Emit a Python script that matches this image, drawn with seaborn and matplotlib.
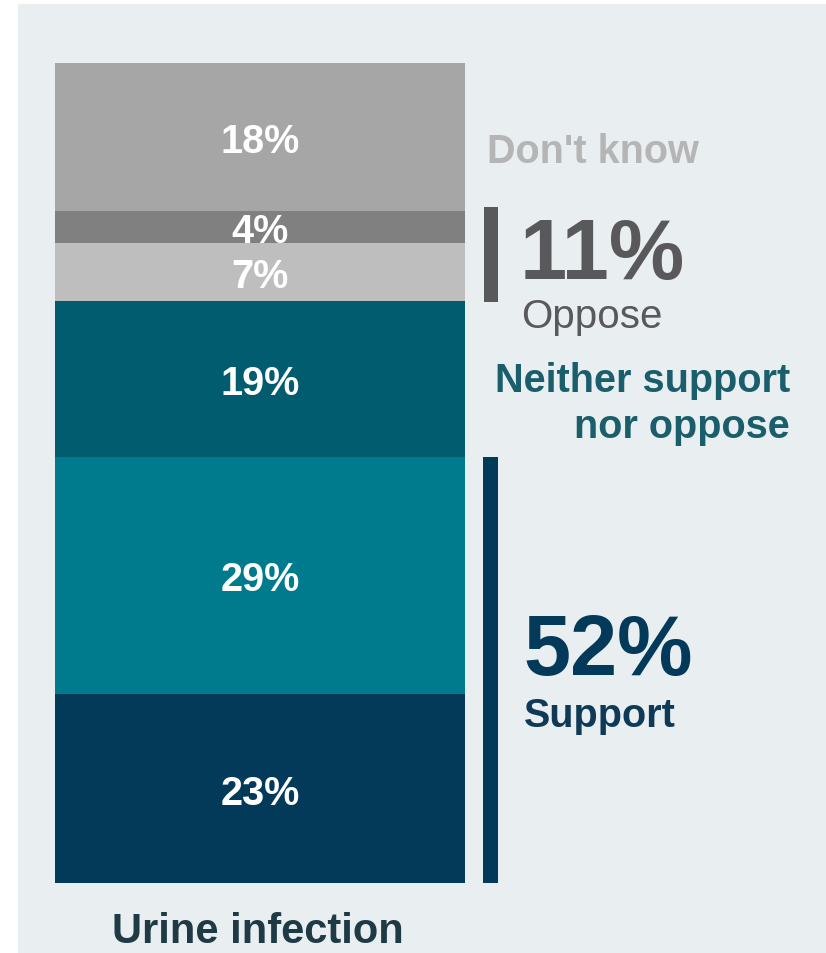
import matplotlib
matplotlib.use("Agg")
import matplotlib.pyplot as plt
import seaborn as sns
import pandas as pd
import numpy as np
from matplotlib.patches import Rectangle

sns.set_theme(style="white")
plt.rcParams['font.family'] = ['Liberation Sans', 'DejaVu Sans']

# ---- data ----
category = "Urine infection"
segments = ["Support strongly", "Support", "Neither support nor oppose",
            "Oppose", "Oppose strongly", "Don't know"]
values = [23, 29, 19, 7, 4, 18]
labels = ["23%", "29%", "19%", "7%", "4%", "18%"]
colors = ["#033A5A", "#007A8D", "#005C6E", "#BEBEBE", "#808080", "#A6A6A6"]
support_total = "52%"
oppose_total = "11%"

W, H = 826, 954
fig = plt.figure(figsize=(W / 100, H / 100), dpi=100)
fig.patch.set_facecolor("white")
# light panel background
fig.add_artist(Rectangle((18 / W, -0.01), 1 - 18 / W + 0.01, 1.01 - 5 / H, transform=fig.transFigure,
                         facecolor="#E9EEF1", edgecolor="none", zorder=0))

bar_l, bar_r, bar_b, bar_t = 55, 465, 884, 64
ax = fig.add_axes([bar_l / W, (H - bar_b) / H, (bar_r - bar_l) / W, (bar_b - bar_t) / H])
ax.set_facecolor("none")

cum = np.cumsum(values)
df = pd.DataFrame({"cat": [category] * len(values), "seg": segments,
                   "val": values, "top": cum})
# draw cumulative bars from tallest to shortest so each segment shows
for i in range(len(values) - 1, -1, -1):
    sns.barplot(data=df.iloc[[i]], x="cat", y="top", color=colors[i],
                width=1.0, saturation=1, ax=ax, edgecolor="none", linewidth=0)

ax.set_xlim(-0.5, 0.5)
ax.set_ylim(0, 100)
ax.axis("off")

# segment labels
bottoms = cum - np.array(values)
for b, v, lab in zip(bottoms, values, labels):
    ax.text(0, b + v / 2, lab, ha="center", va="center_baseline", color="white",
            fontsize=28.5, fontweight="bold")

tr = ax.get_yaxis_transform()
def fx(px):
    return (px - bar_l) / (bar_r - bar_l)

# brackets
opp_lo = bottoms[3]
opp_hi = cum[4]
ax.add_patch(Rectangle((fx(484), opp_lo - 0.2), fx(498) - fx(484), opp_hi - opp_lo + 0.6,
                       transform=tr, facecolor="#59595B", edgecolor="none", clip_on=False))
sup_hi = cum[1]
ax.add_patch(Rectangle((fx(483), 0), fx(498) - fx(483), sup_hi - 0.1,
                       transform=tr, facecolor="#033A5A", edgecolor="none", clip_on=False))

def fy(py):
    return (bar_b - py) / (bar_b - bar_t) * 100

# annotations
ax.text(fx(520), fy(279), oppose_total, transform=tr, ha="left", va="baseline",
        fontsize=61, fontweight="bold", color="#59595B")
ax.text(fx(521), fy(328), "Oppose", transform=tr, ha="left", va="baseline",
        fontsize=29, color="#59595B")
ax.text(fx(790), fy(392), "Neither support", transform=tr, ha="right", va="baseline",
        fontsize=28.5, fontweight="bold", color="#1A5E6C")
ax.text(fx(790), fy(438), "nor oppose", transform=tr, ha="right", va="baseline",
        fontsize=28.5, fontweight="bold", color="#1A5E6C")
ax.text(fx(487), fy(163), "Don't know", transform=tr, ha="left", va="baseline",
        fontsize=28.5, fontweight="bold", color="#B5B5B5")
ax.text(fx(523), fy(675), support_total, transform=tr, ha="left", va="baseline",
        fontsize=61, fontweight="bold", color="#033A5A")
ax.text(fx(524), fy(727), "Support", transform=tr, ha="left", va="baseline",
        fontsize=28.5, fontweight="bold", color="#0E3A57")

# category label
ax.text(0.495, fy(943), category, transform=tr, ha="center", va="baseline",
        fontsize=30, fontweight="bold", color="#1E3A45")

fig.savefig("out.png", dpi=100, facecolor=fig.get_facecolor())
